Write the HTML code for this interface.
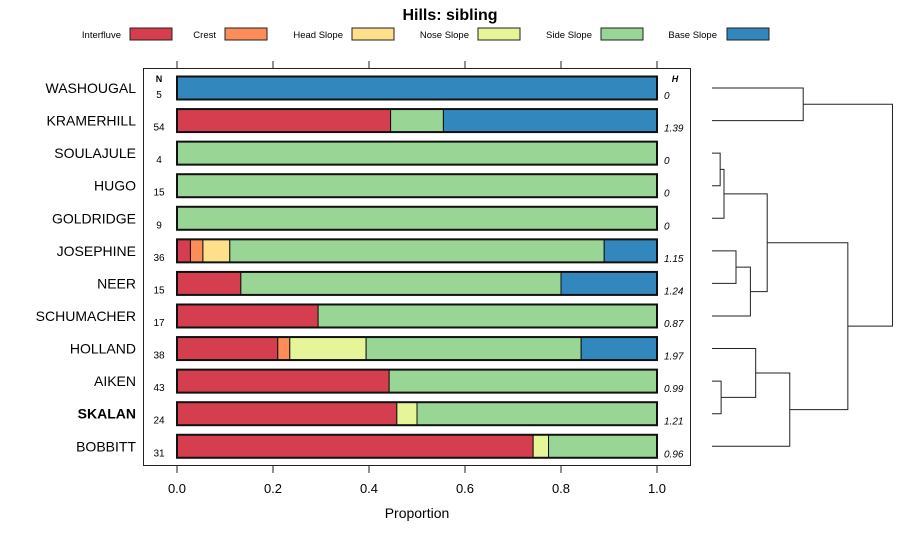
<!DOCTYPE html>
<html><head><meta charset="utf-8"><style>
body{margin:0;background:#fff;}
svg{display:block;font-family:"Liberation Sans",sans-serif;}
</style></head><body>
<svg id="chart" width="900" height="540" viewBox="0 0 900 540"></svg>
<script>
const categories=["WASHOUGAL","KRAMERHILL","SOULAJULE","HUGO","GOLDRIDGE","JOSEPHINE","NEER","SCHUMACHER","HOLLAND","AIKEN","SKALAN","BOBBITT"];
const classes=["Interfluve","Crest","Head Slope","Nose Slope","Side Slope","Base Slope"];
const colors=["#D53E4F","#FC8D59","#FEE08B","#E6F598","#99D594","#3288BD"];
const interfluve=[0,0.445,0,0,0,0.028,0.133,0.294,0.21,0.442,0.458,0.742];
const crest=[0,0,0,0,0,0.026,0,0,0.025,0,0,0];
const headSlope=[0,0,0,0,0,0.056,0,0,0,0,0,0];
const noseSlope=[0,0,0,0,0,0,0,0,0.159,0,0.042,0.032];
const sideSlope=[0,0.11,1,1,1,0.78,0.667,0.706,0.448,0.558,0.5,0.226];
const baseSlope=[1,0.445,0,0,0,0.11,0.2,0,0.158,0,0,0];
const nValues=["5","54","4","15","9","36","15","17","38","43","24","31"];
const hValues=["0","1.39","0","0","0","1.15","1.24","0.87","1.97","0.99","1.21","0.96"];
const xTicks=[0,0.2,0.4,0.6,0.8,1.0];
const xTickLabels=["0.0","0.2","0.4","0.6","0.8","1.0"];
// dendrogram merges: [leftNode,rightNode,height]; leaves are indices, merges are "m"+k
const merges=[[0,1,0.19],[2,3,0.017],["m1",4,0.025],[5,6,0.05],["m3",7,0.08],["m2","m4",0.115],[9,10,0.019],[8,"m6",0.091],["m7",11,0.162],["m5","m8",0.283],["m0","m9",0.376]];

const NS="http://www.w3.org/2000/svg";
const svg=document.getElementById("chart");
function el(t,a,p){const e=document.createElementNS(NS,t);for(const k in a)e.setAttribute(k,a[k]);(p||svg).appendChild(e);return e;}
const x0=177,x1=657;
const xs=v=>x0+(x1-x0)*v;
const rowY=i=>88+i*32.57;
const series=[interfluve,crest,headSlope,noseSlope,sideSlope,baseSlope];

// title
let t=el("text",{x:450,y:20,"text-anchor":"middle","font-size":16,"font-weight":"bold"});t.textContent="Hills: sibling";


// legend
const legX=[[121,130],[216,225],[343,352],[469,478],[592,601],[717,727]];
classes.forEach((c,k)=>{
 const g=el("g",{});
 
 
 const tx=el("text",{x:legX[k][0],y:38,"text-anchor":"end","font-size":9.5},g);tx.textContent=c;
 el("rect",{x:legX[k][1],y:28,width:42,height:12,fill:colors[k],stroke:"#222","stroke-width":1},g);
});
// panel
const panel=el("rect",{x:143.5,y:68.5,width:547,height:397,fill:"none",stroke:"#222","stroke-width":1});


xTicks.forEach((v,k)=>{
 el("line",{x1:xs(v),x2:xs(v),y1:61,y2:68,stroke:"#222"});
 el("line",{x1:xs(v),x2:xs(v),y1:466,y2:473,stroke:"#222"});
 const l=el("text",{x:xs(v),y:493,"text-anchor":"middle","font-size":13});l.textContent=xTickLabels[k];
 
 
});
const xt=el("text",{x:417,y:518,"text-anchor":"middle","font-size":14});xt.textContent="Proportion";


let h=el("text",{x:159,y:82,"text-anchor":"middle","font-size":9,"font-weight":"bold"});h.textContent="N";
h=el("text",{x:675,y:82,"text-anchor":"middle","font-size":9,"font-weight":"bold","font-style":"italic"});h.textContent="H";
categories.forEach((c,i)=>{
 const y=rowY(i);
 const lab=el("text",{x:136,y:y+5,"text-anchor":"end","font-size":14,"font-weight":c==="SKALAN"?"bold":"normal"});lab.textContent=c;
 
 
 const n=el("text",{x:159,y:y+10,"text-anchor":"middle","font-size":10});n.textContent=nValues[i];
 
 
 const hv=el("text",{x:664,y:y+11,"font-size":10,"font-style":"italic"});hv.textContent=hValues[i];
 
 
 let acc=0;
 series.forEach((s,k)=>{
  if(s[i]>0){
   const r=el("rect",{x:xs(acc),y:y-11.5,width:xs(acc+s[i])-xs(acc),height:23,fill:colors[k],stroke:"#111","stroke-width":1});
   
   
  }
  acc+=s[i];
 });
 const o=el("rect",{x:xs(0),y:y-11.5,width:xs(1)-xs(0),height:23,fill:"none",stroke:"#111","stroke-width":2});
 
 
});
// dendrogram
const dx=h=>712+h*480;
const nodes={};
categories.forEach((c,i)=>{nodes[i]={x:dx(0),y:rowY(i)};});
merges.forEach((m,k)=>{
 const a=nodes[m[0]],b=nodes[m[1]],hx=dx(m[2]);
 const p=el("path",{d:`M${a.x},${a.y}H${hx}V${b.y}H${b.x}`,fill:"none",stroke:"#222","stroke-width":1});
 
 
 nodes["m"+k]={x:hx,y:(a.y+b.y)/2};
});
</script>
</body></html>
